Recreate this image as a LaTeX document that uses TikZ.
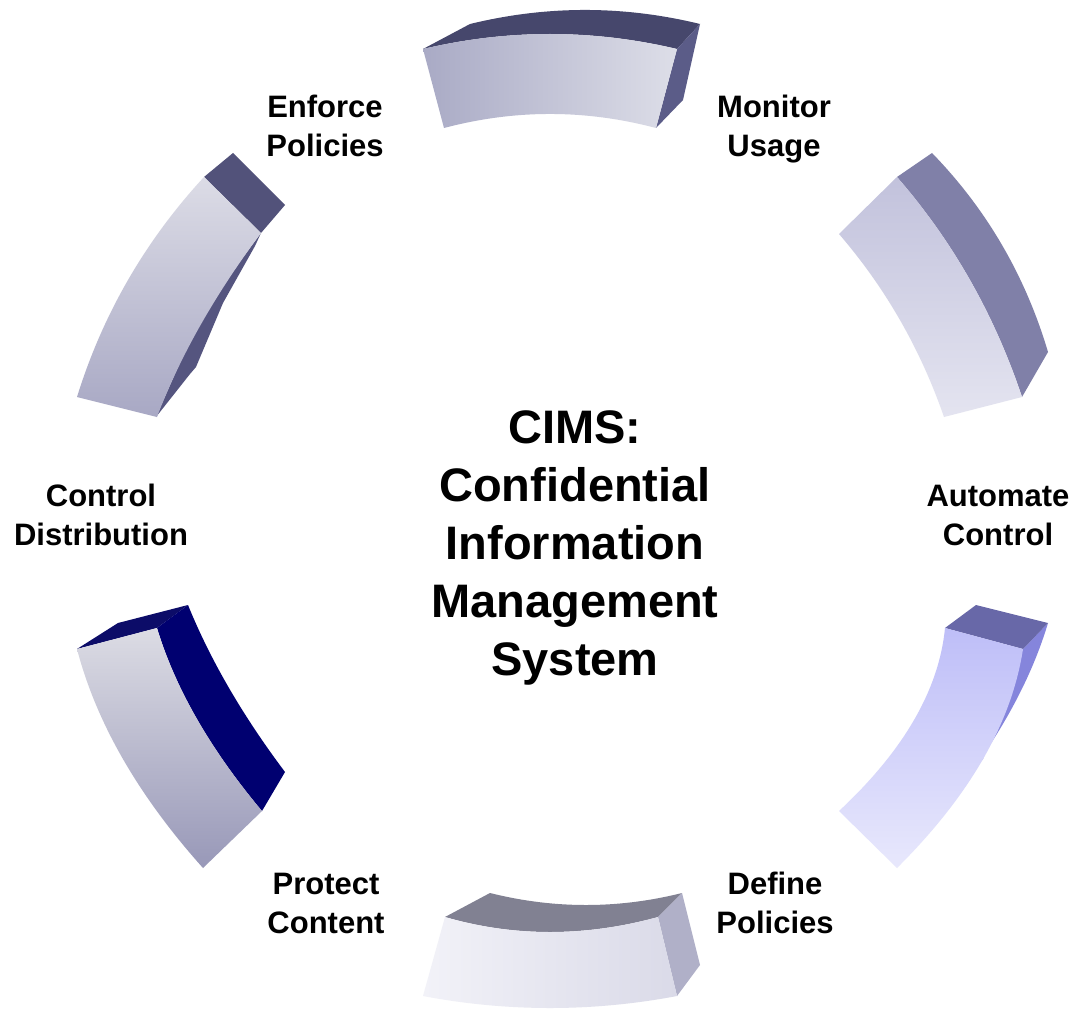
\documentclass[tikz,border=0pt]{standalone}
\usepackage{fontspec}
\setmainfont{Liberation Sans}
\begin{document}
\begin{tikzpicture}[x=1pt,y=-1pt,
  lbl/.style={font=\fontsize{31}{39}\selectfont\bfseries, align=center, inner sep=0pt},
  ctr/.style={font=\fontsize{47}{58}\selectfont\bfseries, align=center, inner sep=0pt}]
\fill[white] (0,0) rectangle (1076,1011);
\useasboundingbox (0,0) rectangle (1076,1011);

% ---------- top segment ----------
\fill[fill={rgb,255:red,70;green,71;blue,108}] (423,49) -- (470,24) .. controls (546.7,5.3) and (623.3,5.3) .. (700,24) -- (677,49) .. controls (592.3,29) and (507.7,29) .. (423,49) -- cycle;
\fill[fill={rgb,255:red,91;green,92;blue,136}] (677,49) -- (700,24) -- (683,100) -- (656,128) -- cycle;
\shade[left color={rgb,255:red,169;green,170;blue,197}, right color={rgb,255:red,221;green,222;blue,232}]
  (423,49) .. controls (507.7,29) and (592.3,29) .. (677,49) -- (656,128) .. controls (585.3,109.3) and (514.7,109.3) .. (444,128) -- cycle;

% ---------- right-top segment ----------
\fill[fill={rgb,255:red,128;green,128;blue,168}] (897,177) -- (932,153) .. controls (986.7,209.3) and (1025.3,275.7) .. (1048,352) -- (1022,397) .. controls (994.3,314.3) and (952.7,241) .. (897,177) -- cycle;
\shade[top color={rgb,255:red,194;green,194;blue,220}, bottom color={rgb,255:red,228;green,228;blue,240}]
  (839,234) -- (897,177) .. controls (952.7,241) and (994.3,314.3) .. (1022,397) -- (944,417) .. controls (920.3,348.7) and (885.3,287.7) .. (839,234) -- cycle;

% ---------- right-bottom segment ----------
\fill[fill={rgb,255:red,133;green,133;blue,220}] (1023,649) -- (1048,623) .. controls (1029.3,685.3) and (993.3,748.3) .. (940,812) -- (983,759) -- cycle;
\fill[fill={rgb,255:red,104;green,104;blue,168}] (945,628) -- (976,605) -- (1048,623) -- (1023,649) -- cycle;
\shade[top color={rgb,255:red,190;green,190;blue,248}, bottom color={rgb,255:red,232;green,232;blue,252}]
  (945,628) -- (1023,649) .. controls (1011.7,722.7) and (969.7,795.7) .. (897,868) -- (839,811) .. controls (903.7,750.7) and (939,689.7) .. (945,628) -- cycle;

% ---------- bottom segment ----------
\fill[fill={rgb,255:red,129;green,129;blue,146}] (445,917) -- (490,893) .. controls (554,909) and (618,909) .. (682,893) -- (658,917) .. controls (585,937) and (514,937) .. (445,917) -- cycle;
\fill[fill={rgb,255:red,176;green,176;blue,200}] (658,917) -- (682,893) -- (700,965) -- (677,996) -- cycle;
\shade[left color={rgb,255:red,242;green,242;blue,248}, right color={rgb,255:red,218;green,218;blue,232}]
  (445,917) .. controls (514,937) and (585,937) .. (658,917) -- (677,996) .. controls (592.3,1012) and (507.7,1012) .. (423,996) -- cycle;

% ---------- left-bottom segment ----------
\fill[fill={rgb,255:red,12;green,12;blue,104}] (77,649) -- (118,623) -- (188,605) -- (157,628) -- cycle;
\fill[fill={rgb,255:red,0;green,0;blue,112}] (157,628) -- (188,605) .. controls (210.3,660) and (242.7,715.7) .. (285,772) -- (262,811) .. controls (210.3,749.3) and (175.3,688.3) .. (157,628) -- cycle;
\shade[top color={rgb,255:red,220;green,220;blue,228}, bottom color={rgb,255:red,152;green,152;blue,184}]
  (77,649) -- (157,628) .. controls (175.3,688.3) and (210.3,749.3) .. (262,811) -- (203,868) .. controls (138.3,795.7) and (96.3,722.7) .. (77,649) -- cycle;

% ---------- left-top segment ----------
\fill[fill={rgb,255:red,85;green,85;blue,127}] (261,233) -- (255,246) -- (223,303) -- (196,367) -- (190,374) -- (156,417) -- (190,340) -- (230,275) -- cycle;
\fill[fill={rgb,255:red,82;green,82;blue,122}] (204,177) -- (233,153) -- (285,205) -- (261,233) -- cycle;
\shade[shading=axis, shading angle=30, top color={rgb,255:red,220;green,220;blue,230}, bottom color={rgb,255:red,168;green,168;blue,196}]
  (204,177) -- (261,233) .. controls (214.3,295.7) and (179.7,357) .. (157,417) -- (77,397) .. controls (102.7,314.3) and (145,241) .. (204,177) -- cycle;

% ---------- labels ----------
\node[lbl] (enf) at (325,126) {Enforce\\Policies};
\node[lbl] (mon) at (774,129) {Monitor\\Usage};
\node[lbl] (aut) at (998,515) {Automate\\Control};
\node[lbl] (def) at (775,903) {Define\\Policies};
\node[lbl] (pro) at (326,903) {Protect\\Content};
\node[lbl] (con) at (101,515) {Control\\Distribution};
\node[ctr] (cims) at (575,548) {CIMS:\\Confidential\\Information\\Management\\System};
\end{tikzpicture}
\end{document}
